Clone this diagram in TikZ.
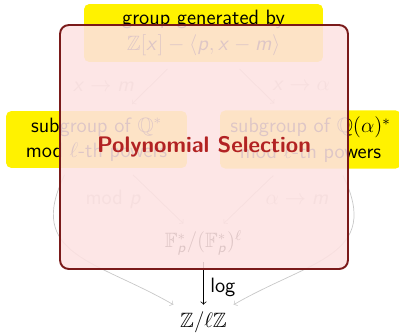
\documentclass[tikz,border=0pt,11pt]{standalone}
\usepackage{amssymb}
\usetikzlibrary{positioning}
\renewcommand{\familydefault}{\sfdefault}
\DeclareMathAlphabet{\mathsfit}{OT1}{cmss}{m}{sl}
\newcommand{\sv}[1]{\mathsfit{#1}}
\definecolor{selred}{RGB}{178,34,34}
\definecolor{selborder}{RGB}{122,26,26}
\definecolor{selfill}{RGB}{253,226,226}
\definecolor{arrowgray}{RGB}{200,200,200}

\tikzset{
  groupbox/.style={fill=yellow, rounded corners=3pt, align=center, outer sep=4pt, minimum height=1.07cm},
  maparrow/.style={->, arrowgray},
}

\begin{document}
\begin{tikzpicture}[x=0.02cm,y=-0.02cm,font=\fontsize{11.8}{14.5}\selectfont]
  \useasboundingbox (0,0) rectangle (399,335);
  % the four groups
  \node[groupbox,minimum width=4.78cm] (gen) at (203.5,33) {group generated by\\$\mathbb{Z}[\sv{x}]-\langle \sv{p},\sv{x}-\sv{m}\rangle$};
  \node[groupbox,minimum width=3.62cm] (ratl) at (96.5,139.5) {subgroup of $\mathbb{Q}^*$\\mod $\ell$-th powers};
  \node[groupbox,minimum width=3.62cm] (alg) at (310.5,139.5) {subgroup of $\mathbb{Q}(\alpha)^*$\\mod $\ell$-th powers};
  \node (fp) at (203.5,243) {$\mathbb{F}_{\sv{p}}^*/(\mathbb{F}_{\sv{p}}^*)^\ell$};
  \node (zl) at (203.5,322) {$\mathbb{Z}/\ell\mathbb{Z}$};
  % the maps
  \draw[maparrow] (gen) -- (ratl) node[midway,left=5pt] {$\sv{x}\to\sv{m}$};
  \draw[maparrow] (gen) -- (alg) node[midway,right=5pt] {$\sv{x}\to\alpha$};
  \draw[maparrow] (ratl) -- (fp) node[midway,left=6pt] {mod $\sv{p}$};
  \draw[maparrow] (alg) -- (fp) node[midway,right=6pt] {$\alpha\to\sv{m}$};
  \draw[maparrow] (ratl.-132) to[out=-116,in=150,looseness=1.35] (zl.north west);
  \draw[maparrow] (alg.-48) to[out=-64,in=30,looseness=1.35] (zl.north east);
  \draw[->] (fp) -- (zl) node[midway,right,yshift=-2pt] {log};
  % overlay
  \node[draw=selborder, line width=1.1pt, fill=selfill, fill opacity=0.88, text opacity=1,
    rounded corners=5pt, minimum width=5.76cm, minimum height=4.88cm,
    text=selred, font=\fontsize{12.8}{15}\selectfont\bfseries] (polysel) at (204,147) {Polynomial Selection};
\end{tikzpicture}
\end{document}
